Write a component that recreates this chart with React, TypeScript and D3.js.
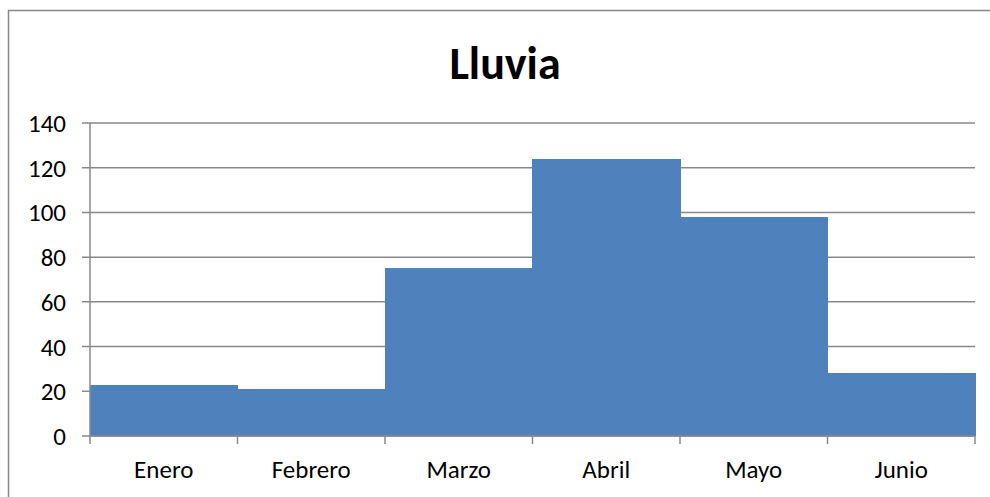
import { useMemo } from "react";
import * as d3 from "d3";

const months = ["Enero", "Febrero", "Marzo", "Abril", "Mayo", "Junio"];
const rainfall = [23, 21, 75, 124, 98, 28];
const yTicks = [0, 20, 40, 60, 80, 100, 120, 140];

const WIDTH = 990;
const HEIGHT = 497;
const margin = { top: 123, right: 15, bottom: 61, left: 90 };
const FONT = "Carlito, Calibri, Lato, 'Open Sans', sans-serif";

export default function App() {
  const innerW = WIDTH - margin.left - margin.right;
  const innerH = HEIGHT - margin.top - margin.bottom;

  const { x, y } = useMemo(() => {
    const x = d3.scaleBand<string>().domain(months).range([0, innerW]).padding(0);
    const y = d3.scaleLinear().domain([0, 140]).range([innerH, 0]);
    return { x, y };
  }, [innerW, innerH]);

  return (
    <svg
      width={WIDTH}
      height={HEIGHT}
      style={{ position: "fixed", left: 0, top: 0, background: "#fff" }}
    >
      <rect x={8.5} y={10.5} width={WIDTH} height={HEIGHT} fill="#fff" stroke="#888" strokeWidth={1.5} />
      <text
        x={505}
        y={79}
        textAnchor="middle"
        fontFamily={FONT}
        fontWeight="bold"
        fontSize={46}
        fill="#000"
      >
        Lluvia
      </text>
      <g transform={`translate(${margin.left},${margin.top})`}>
        {yTicks.map((t) => (
          <g key={t}>
            <line x1={-8} x2={innerW} y1={y(t)} y2={y(t)} stroke="#898989" strokeWidth={1.5} />
            <text
              x={-24}
              y={y(t)}
              dy="0.36em"
              textAnchor="end"
              fontFamily={FONT}
              fontSize={25}
              fill="#000"
            >
              {t}
            </text>
          </g>
        ))}
        {months.map((m, i) => (
          <rect
            key={m}
            x={(x(m) ?? 0) - 0.5}
            y={y(rainfall[i])}
            width={x.bandwidth() + 1}
            height={innerH - y(rainfall[i])}
            fill="#4F81BD"
            shapeRendering="crispEdges"
          />
        ))}
        <line x1={0} x2={0} y1={0} y2={innerH} stroke="#898989" strokeWidth={1.5} />
        <line x1={0} x2={innerW} y1={innerH} y2={innerH} stroke="#898989" strokeWidth={1.5} />
        {[...months.map((m) => x(m) ?? 0), innerW].map((px, i) => (
          <line key={i} x1={px} x2={px} y1={innerH} y2={innerH + 8} stroke="#898989" strokeWidth={1.5} />
        ))}
        {months.map((m) => (
          <text
            key={m}
            x={(x(m) ?? 0) + x.bandwidth() / 2}
            y={innerH + 42}
            textAnchor="middle"
            fontFamily={FONT}
            fontSize={25}
            fill="#000"
          >
            {m}
          </text>
        ))}
      </g>
    </svg>
  );
}
